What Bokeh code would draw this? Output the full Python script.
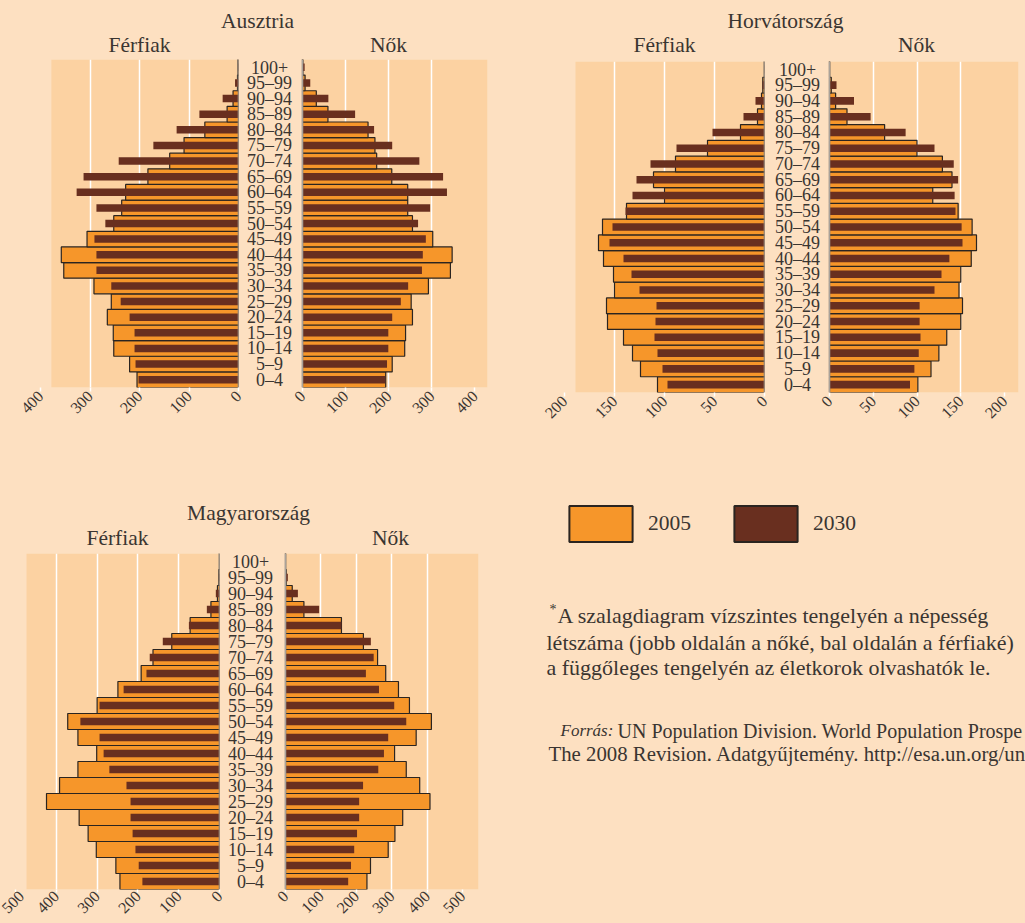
import math
from bokeh.plotting import figure
from bokeh.models import (Range1d, FactorRange, ColumnDataSource, FixedTicker,
                          BoxAnnotation, Label, Legend, LegendItem, Span)
from bokeh.layouts import row, column
from bokeh.embed import file_html
from bokeh.resources import INLINE
from bokeh.core.properties import value

# ---------------- data (thousand persons), age groups from youngest to oldest ----------------
AGES = ["0–4", "5–9", "10–14", "15–19", "20–24", "25–29", "30–34", "35–39", "40–44", "45–49",
        "50–54", "55–59", "60–64", "65–69", "70–74", "75–79", "80–84", "85–89", "90–94", "95–99", "100+"]

AT_MEN_2005 = [205, 220, 252, 253, 265, 257, 292, 353, 358, 306, 252, 236, 228, 183, 139, 110, 68, 23, 11, 2, 1]
AT_MEN_2030 = [202, 208, 210, 210, 220, 238, 257, 287, 287, 291, 269, 287, 327, 313, 242, 172, 125, 79, 32, 7, 1]
AT_WOMEN_2005 = [193, 208, 237, 239, 255, 252, 292, 343, 347, 302, 255, 244, 244, 207, 172, 168, 152, 59, 32, 6, 1]
AT_WOMEN_2030 = [192, 196, 199, 199, 208, 228, 245, 277, 279, 286, 268, 296, 335, 326, 271, 208, 166, 122, 60, 18, 5]

HR_MEN_2005 = [107, 124, 132, 141, 157, 158, 150, 151, 161, 166, 162, 138, 100, 111, 89, 57, 24, 7, 3, 1.7, 0.2]
HR_MEN_2030 = [97, 102, 107, 110, 109, 108, 125, 133, 141, 155, 152, 139, 132, 128, 114, 88, 52, 21, 9, 2, 0.3]
HR_WOMEN_2005 = [101, 116, 125, 134, 150, 152, 148, 150, 162, 168, 163, 147, 118, 140, 129, 100, 63, 20, 7, 2, 0.2]
HR_WOMEN_2030 = [92, 97, 102, 104, 103, 103, 120, 128, 137, 152, 151, 144, 143, 147, 142, 120, 87, 47, 28, 8, 0.5]

HU_MEN_2005 = [244, 254, 302, 322, 344, 424, 392, 347, 301, 347, 372, 300, 249, 192, 163, 117, 72, 21, 5, 1.6, 0.3]
HU_MEN_2030 = [189, 198, 206, 213, 218, 218, 228, 270, 284, 294, 341, 294, 235, 179, 171, 139, 75, 31, 9, 1.6, 0.3]
HU_WOMEN_2005 = [230, 240, 290, 309, 331, 408, 379, 341, 308, 369, 412, 350, 319, 283, 260, 220, 158, 52, 19, 2, 0.3]
HU_WOMEN_2030 = [177, 185, 194, 202, 208, 208, 219, 262, 278, 290, 341, 307, 264, 227, 249, 241, 158, 95, 35, 6.6, 0.5]

AT_TICKS = [0, 100, 200, 300, 400]
HR_TICKS = [0, 50, 100, 150, 200]
HU_TICKS = [0, 100, 200, 300, 400, 500]

SERIES = ["2005", "2030"]
TITLES = {"at": "Ausztria", "hr": "Horvátország", "hu": "Magyarország"}
MEN, WOMEN = "Férfiak", "Nők"
NOTE = ["A szalagdiagram vízszintes tengelyén a népesség",
        "létszáma (jobb oldalán a nőké, bal oldalán a férfiaké)",
        "a függőleges tengelyén az életkorok olvashatók le."]
SOURCE = ["Forrás:", "UN Population Division. World Population Prospe",
          "The 2008 Revision. Adatgyűjtemény. http://esa.un.org/un"]

# ---------------- style ----------------
FONT = "Liberation Serif"
PAGE = "#FDE0C1"
BAND = "#FCD2A2"
ORANGE = "#F6962A"
BROWN = "#692F1F"
INK = "#3A3531"
EDGE = "#2A2420"
ZERO = "#A9A29A"
STUB = 6  # px of canvas kept right of the men's zero line


def blank(w, h):
    p = figure(width=w, height=h, output_backend="svg", toolbar_location=None, title=None,
               x_axis_location=None, y_axis_location=None,
               x_range=Range1d(0, w), y_range=Range1d(0, h),
               min_border_left=0, min_border_right=0, min_border_top=0, min_border_bottom=0)
    p.background_fill_color = PAGE
    p.border_fill_color = PAGE
    p.outline_line_color = None
    p.grid.visible = False
    return p


def title_fig(w, h, items):
    p = blank(w, h)
    for txt, x, y in items:
        p.add_layout(Label(x=x, y=y, text=txt, text_align="center", text_baseline="middle",
                           text_font=FONT, text_font_size="21.5px", text_color=INK))
    return p


def style_axis(p, ticks, standoff, tick_out):
    ax = p.xaxis[0]
    ax.ticker = FixedTicker(ticks=ticks)
    ax.major_label_orientation = math.pi / 4
    ax.axis_line_color = None
    ax.major_tick_line_color = "white"
    ax.major_tick_line_width = 1.5
    ax.major_tick_out = tick_out
    ax.major_tick_in = 0
    ax.minor_tick_line_color = None
    ax.major_label_standoff = standoff
    ax.major_label_text_font = FONT
    ax.major_label_text_font_size = "16px"
    ax.major_label_text_color = INK


def side_fig(xr, w, h, bl, br, bb, ticks, band_end, v05, v30, standoff, tick_out):
    p = figure(width=w, height=h, x_range=xr, y_range=FactorRange(factors=AGES),
               output_backend="svg", toolbar_location=None, title=None, y_axis_location=None,
               min_border_left=bl, min_border_right=br, min_border_top=0, min_border_bottom=bb)
    p.background_fill_color = PAGE
    p.border_fill_color = PAGE
    p.outline_line_color = None
    p.add_layout(BoxAnnotation(left=0, right=band_end, fill_color=BAND, fill_alpha=1.0,
                               line_color=None, level="image"))
    p.xgrid.ticker = FixedTicker(ticks=ticks[1:-1])
    p.xgrid.grid_line_color = "white"
    p.xgrid.grid_line_width = 1.5
    p.ygrid.visible = False
    style_axis(p, ticks, standoff, tick_out)
    src = ColumnDataSource(dict(age=AGES, v05=v05, v30=v30))
    p.hbar(y="age", left=0, right="v05", height=1.0, source=src,
           fill_color=ORANGE, line_color=EDGE, line_width=1.2)
    p.hbar(y="age", left=0, right="v30", height=0.48, source=src,
           fill_color=BROWN, line_color=None)
    p.add_layout(Span(location=0, dimension="height", line_color=ZERO, line_width=1.5))
    return p


def men_fig(canvas_l, frame_l, zero, h, bb, xmax, ticks, band_end, v05, v30, standoff=2, tick_out=4):
    return side_fig(Range1d(xmax, 0), zero + STUB - canvas_l, h, frame_l - canvas_l, STUB, bb,
                    ticks, band_end, v05, v30, standoff, tick_out)


def women_fig(canvas_l, zero, frame_r, canvas_r, h, bb, xmax, ticks, v05, v30, label_x,
              standoff=2, tick_out=4):
    s = (frame_r - zero) / xmax
    xr = Range1d(-(zero - canvas_l) / s, xmax)
    p = side_fig(xr, canvas_r - canvas_l, h, 0, canvas_r - frame_r, bb, ticks, xmax, v05, v30,
                 standoff, tick_out)
    src = ColumnDataSource(dict(age=AGES, x=[-(zero - label_x) / s] * len(AGES)))
    p.text(x="x", y="age", text="age", source=src, text_align="center", text_baseline="middle",
           text_font=value(FONT), text_font_size="18px", text_color=INK)
    return p


# ---------------- Austria ----------------
at_title = title_fig(520, 59, [(TITLES["at"], 257, 39), (MEN, 139, 15), (WOMEN, 388, 15)])
at_men = men_fig(0, 40, 238, 371, 43, 400, AT_TICKS, 378, AT_MEN_2005, AT_MEN_2030)
at_women = women_fig(244, 302, 487, 520, 371, 43, 429, AT_TICKS, AT_WOMEN_2005, AT_WOMEN_2030, 269)
austria = column(at_title, row(at_men, at_women))

# ---------------- Croatia ----------------
hr_title = title_fig(505, 61, [(TITLES["hr"], 265, 41), (MEN, 144, 17), (WOMEN, 396, 17)])
hr_men = men_fig(520, 564, 764, 369, 38, 200, HR_TICKS, 189, HR_MEN_2005, HR_MEN_2030)
hr_women = women_fig(770, 829, 1018, 1025, 369, 38, 216, HR_TICKS, HR_WOMEN_2005, HR_WOMEN_2030, 797)
croatia = column(hr_title, row(hr_men, hr_women))

# ---------------- Hungary ----------------
hu_title = title_fig(520, 123, [(TITLES["hu"], 248, 41), (MEN, 117, 16), (WOMEN, 390, 16)])
hu_men = men_fig(0, 15, 219, 370, 34, 500, HU_TICKS, 473, HU_MEN_2005, HU_MEN_2030, 1, 3)
hu_women = women_fig(225, 285, 478, 520, 370, 34, 545, HU_TICKS, HU_WOMEN_2005, HU_WOMEN_2030, 250, 1, 3)
hungary = column(hu_title, row(hu_men, hu_women))

# ---------------- legend and notes ----------------
notes = blank(505, 493)
nan = [math.nan]
r05 = notes.quad(left=nan, right=nan, top=nan, bottom=nan, fill_color=ORANGE, line_color=EDGE, line_width=2)
r30 = notes.quad(left=nan, right=nan, top=nan, bottom=nan, fill_color=BROWN, line_color=EDGE, line_width=2)
leg = Legend(items=[LegendItem(label=SERIES[0], renderers=[r05]), LegendItem(label=SERIES[1], renderers=[r30])],
             orientation="horizontal", location=(41, 377), glyph_width=79, glyph_height=45,
             label_standoff=8, spacing=35, padding=0, margin=0, border_line_color=None,
             background_fill_alpha=0, label_text_font=FONT, label_text_font_size="21.5px",
             label_text_color=INK, label_text_baseline="middle")
notes.add_layout(leg)


def note(txt, x, y, size, style="normal"):
    notes.add_layout(Label(x=x, y=y, text=txt, text_align="left", text_baseline="middle",
                           text_font=FONT, text_font_size=size, text_font_style=style, text_color=INK))


note("*", 29, 314, "14px")
note(NOTE[0], 37, 308, "22px")
note(NOTE[1], 26, 281, "22px")
note(NOTE[2], 26, 256, "22px")
note(SOURCE[0], 40, 193, "17px", "italic")
note(SOURCE[1], 97, 193, "20px")
note(SOURCE[2], 28, 170, "20.8px")

p = column(row(austria, croatia), row(hungary, notes))

html = file_html(p, INLINE, title="Korfák")
html = html.replace("</head>", "<style>html,body{background:%s;}</style></head>" % PAGE, 1)
open("out.html", "w").write(html)
